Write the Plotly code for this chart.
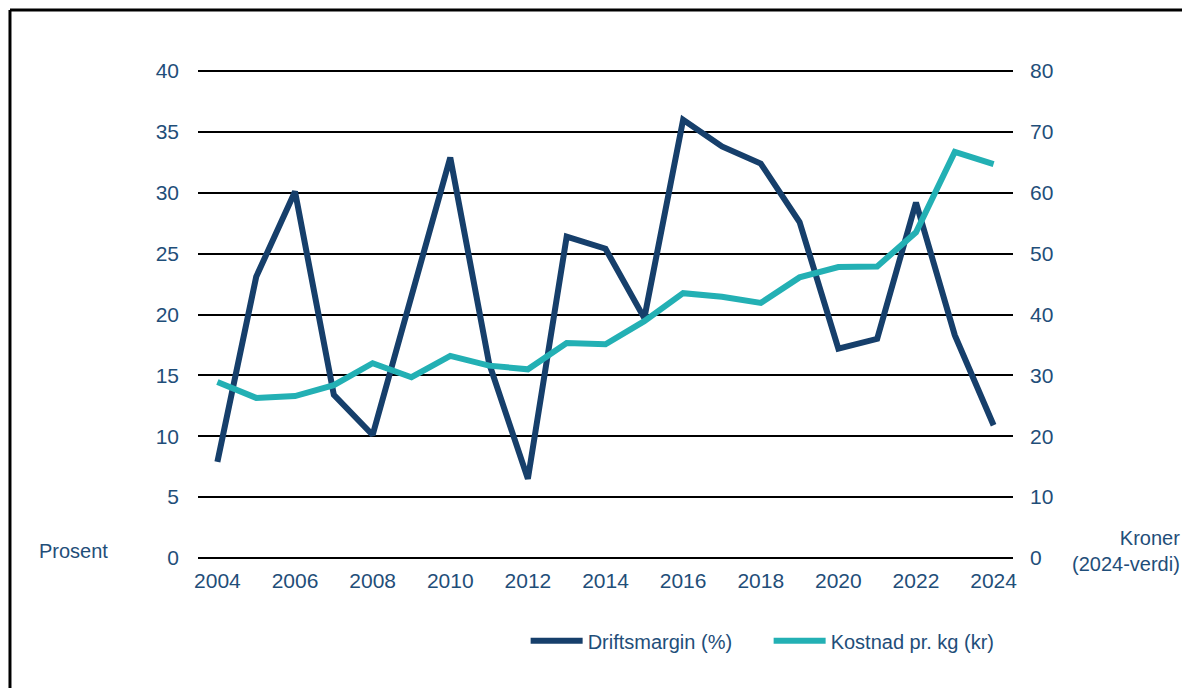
import plotly.graph_objects as go

years = list(range(2004, 2025))
driftsmargin = [7.9, 23.1, 30.1, 13.4, 10.1, 21.4, 32.9, 16.0, 6.5, 26.4, 25.4,
                19.7, 36.0, 33.8, 32.4, 27.6, 17.2, 18.0, 29.2, 18.3, 10.9]
kostnad = [28.9, 26.3, 26.6, 28.4, 32.0, 29.7, 33.2, 31.6, 31.0, 35.3, 35.1,
           38.9, 43.5, 42.9, 41.9, 46.1, 47.8, 47.9, 53.5, 66.7, 64.7]

dark = "#163F6B"
teal = "#23B0B4"
txt = "#1F4E79"
tickfont = dict(family="Liberation Sans, Arial", size=21, color=txt)
font = dict(family="Liberation Sans, Arial", size=20, color=txt)

# page body has an 8px margin, so the figure is drawn 8px smaller
fig = go.Figure()
fig.add_trace(go.Scatter(x=years, y=driftsmargin, name="Driftsmargin (%)",
                         mode="lines", line=dict(color=dark, width=6)))
fig.add_trace(go.Scatter(x=years, y=kostnad, name="Kostnad pr. kg (kr)",
                         mode="lines", line=dict(color=teal, width=6), yaxis="y2"))

fig.update_layout(
    width=1182, height=680,
    margin=dict(l=190, r=177, t=63, b=130),
    paper_bgcolor="white", plot_bgcolor="white",
    font=font,
    showlegend=True,
    legend=dict(orientation="h", x=0.402, xanchor="left", y=-0.17, yanchor="middle",
                font=font, itemwidth=52, entrywidth=176, entrywidthmode="pixels"),
    xaxis=dict(range=[2003.5, 2024.5], tickvals=years[::2], showgrid=False,
               zeroline=False, showline=False, ticks="", ticklabelstandoff=8,
               tickfont=tickfont),
    yaxis=dict(range=[0, 40], dtick=5, showgrid=True, gridcolor="black", gridwidth=2,
               zeroline=True, zerolinecolor="black", zerolinewidth=2,
               showline=False, ticks="", ticklabelstandoff=18, tickfont=tickfont),
    yaxis2=dict(range=[0, 80], dtick=10, overlaying="y", side="right", showgrid=False,
                zeroline=False, showline=False, ticks="", ticklabelstandoff=16,
                tickfont=tickfont),
    shapes=[
        # top gridline (at the edge of the range plotly leaves it out)
        dict(type="line", xref="paper", yref="paper", x0=0, x1=1, y0=1, y1=1,
             line=dict(color="black", width=2), layer="below"),
        dict(type="line", xref="paper", yref="paper", x0=-0.2307, x1=1.3,
             y0=1.1253, y1=1.1253, line=dict(color="black", width=3)),
        dict(type="line", xref="paper", yref="paper", x0=-0.2307, x1=-0.2307,
             y0=1.1253, y1=-0.3, line=dict(color="black", width=3)),
    ],
    annotations=[
        dict(text="Prosent", xref="paper", yref="paper", x=-0.197, y=0.015,
             xanchor="left", yanchor="middle", showarrow=False, font=font),
        dict(text="Kroner<br>(2024-verdi)", xref="paper", yref="paper", x=1.207, y=0.015,
             xanchor="right", yanchor="middle", align="right", showarrow=False, font=font),
    ],
)

fig.write_html("out.html")
